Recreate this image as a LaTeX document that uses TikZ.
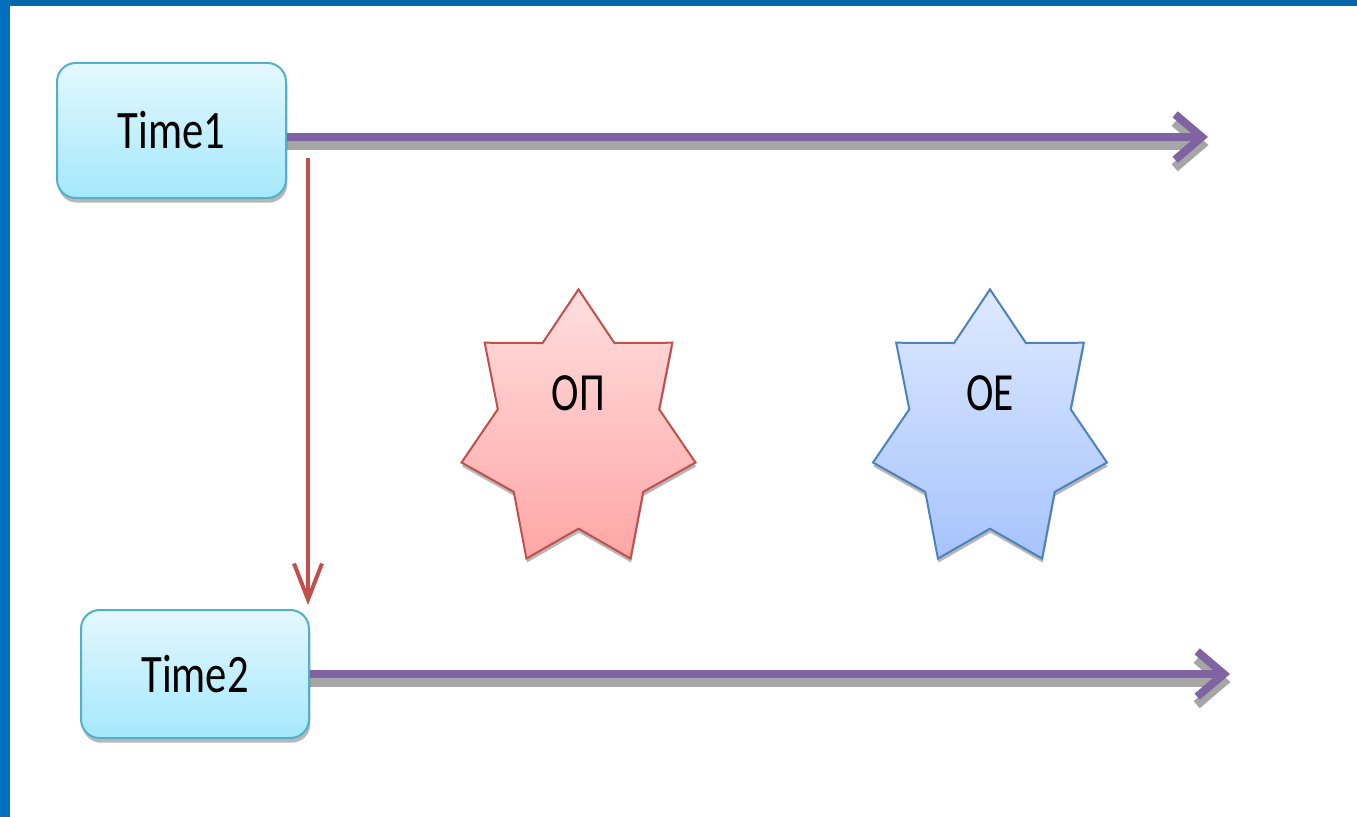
\documentclass[tikz,border=0pt]{standalone}
\usepackage{fontspec}
\usepackage{graphicx}
\setmainfont{Carlito}
\usetikzlibrary{shapes.geometric,arrows.meta,shadows}
\definecolor{frametop}{RGB}{0,104,172}
\definecolor{frameleft}{RGB}{0,112,190}
\definecolor{boxedge}{RGB}{84,176,202}
\definecolor{boxtop}{RGB}{228,248,254}
\definecolor{boxbot}{RGB}{164,232,252}
\definecolor{purp}{RGB}{128,100,162}
\definecolor{redline}{RGB}{192,80,77}
\definecolor{redtop}{RGB}{255,222,222}
\definecolor{redbot}{RGB}{255,166,166}
\definecolor{blueline}{RGB}{79,129,189}
\definecolor{bluetop}{RGB}{222,233,255}
\definecolor{bluebot}{RGB}{166,196,252}
\begin{document}
\begin{tikzpicture}[x=0.75pt,y=-0.75pt,
  timebox/.style={draw=boxedge, line width=1.5pt, rounded corners=14pt,
    top color=boxtop, bottom color=boxbot, inner sep=0pt,
    font=\fontsize{32}{38}\selectfont,
    drop shadow={shadow xshift=1pt, shadow yshift=-3.5pt, opacity=0.4, fill=black!70}},
  starbase/.style={star, star points=7, star point ratio=1.45, minimum size=180pt,
    inner sep=0pt, line width=1.5pt, yscale=1.18,
    drop shadow={shadow xshift=0.4pt, shadow yshift=-3pt, opacity=0.4, fill=black!70}},
  redstar/.style={starbase, draw=redline, top color=redtop, bottom color=redbot},
  bluestar/.style={starbase, draw=blueline, top color=bluetop, bottom color=bluebot},
  startext/.style={font=\fontsize{31}{37}\selectfont, inner sep=0pt},
  timearrow/.style={draw=purp, line width=6pt, -{Straight Barb[length=20pt, width=34pt]}},
  timeshadow/.style={draw=black!35, line width=7pt, -{Straight Barb[length=20pt, width=34pt]},
    transform canvas={xshift=0.4pt, yshift=-6pt}},
  downarrow/.style={draw=redline, line width=3pt, -{Straight Barb[length=27pt, width=21pt]}}
]
\useasboundingbox (0,0) rectangle (1357,817);
\fill[white] (0,0) rectangle (1357,817);
\fill[frametop] (0,0) rectangle (1357,6);
\fill[frameleft] (0,0) rectangle (10,817);

% coordinates
\coordinate (a1e) at (1208,137);
\coordinate (a2e) at (1230,674);
\coordinate (rs) at (308,158);
\coordinate (re) at (308,605);
\coordinate (s1e) at (286,137);
\coordinate (s2e) at (309,674);

\draw[timeshadow] (s1e) -- (a1e);
\draw[timeshadow] (s2e) -- (a2e);

\node[timebox, minimum width=171.75pt, minimum height=101.25pt] (t1) at (171.5,130.5) {\scalebox{1}[1.27]{Time1}};
\node[timebox, minimum width=171pt, minimum height=96pt] (t2) at (195,674) {\scalebox{1}[1.27]{Time2}};

\draw[timearrow] ([yshift=-4.9pt]t1.east) -- (a1e);
\draw[timearrow] (t2.east) -- (a2e);
\draw[downarrow] (rs) -- (re);

\node[redstar] (opstar) at (578.5,431) {};
\node[bluestar] (oestar) at (990,431) {};
\node[startext] (op) at (578.5,393) {\scalebox{1}[1.3]{ОП}};
\node[startext] (oe) at (990,393) {\scalebox{1}[1.3]{ОЕ}};
\end{tikzpicture}
\end{document}
